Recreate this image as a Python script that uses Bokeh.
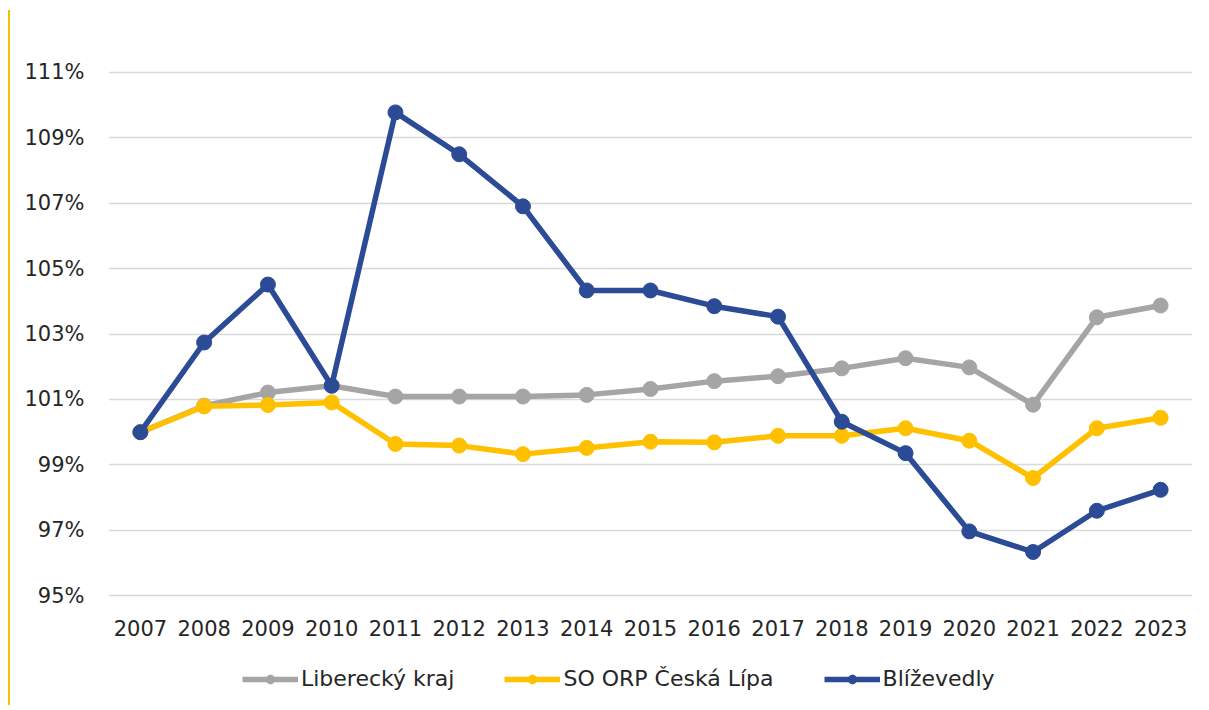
from bokeh.plotting import figure
from bokeh.layouts import column
from bokeh.models import (FixedTicker, PrintfTickFormatter, Legend, LegendItem,
                          ColumnDataSource, Range1d, FactorRange)
from bokeh.embed import file_html
from bokeh.resources import INLINE

years = [str(y) for y in range(2007, 2024)]
liberecky = [100.0, 100.81, 101.21, 101.42, 101.09, 101.09, 101.09, 101.14, 101.32,
             101.56, 101.71, 101.95, 102.26, 101.98, 100.84, 103.51, 103.87]
ceska_lipa = [100.0, 100.79, 100.83, 100.91, 99.64, 99.59, 99.33, 99.52, 99.71,
              99.69, 99.89, 99.89, 100.12, 99.74, 98.60, 100.12, 100.44]
blizevedly = [100.0, 102.74, 104.51, 101.42, 109.77, 108.49, 106.90, 104.33, 104.33,
              103.85, 103.53, 100.32, 99.36, 96.97, 96.34, 97.60, 98.24]
y_ticks = [95, 97, 99, 101, 103, 105, 107, 109, 111]
series_names = ["Liberecký kraj", "SO ORP Česká Lípa", "Blíževedly"]
colors = ["#A5A5A5", "#FFC000", "#2B4B96"]

FONT = "DejaVu Sans"
FS = "21px"
LW = 5.5
MS = 15

p = figure(width=1195, height=645, x_range=FactorRange(*years, range_padding=0),
           y_range=Range1d(94.95, 111.05), output_backend="svg", toolbar_location=None,
           min_border_left=98, min_border_right=13, min_border_top=60,
           min_border_bottom=58)
p.outline_line_color = None
p.background_fill_color = "white"
p.border_fill_color = "white"

p.xgrid.grid_line_color = None
p.ygrid.grid_line_color = "#D9D9D9"
p.ygrid.grid_line_width = 1.5

p.yaxis.ticker = FixedTicker(ticks=y_ticks)
p.yaxis.formatter = PrintfTickFormatter(format="%d%%")
for ax in (p.xaxis, p.yaxis):
    ax.axis_line_color = None
    ax.major_tick_line_color = None
    ax.minor_tick_line_color = None
    ax.major_label_text_font = FONT
    ax.major_label_text_font_size = FS
    ax.major_label_text_color = "#262626"
p.yaxis.major_label_standoff = 18
p.xaxis.major_label_standoff = 16

sources = []
for vals, col in zip([liberecky, ceska_lipa, blizevedly], colors):
    src = ColumnDataSource(dict(x=years, y=vals))
    sources.append(src)
    p.line("x", "y", source=src, line_color=col, line_width=LW)
    p.scatter("x", "y", source=src, size=MS, fill_color=col, line_color=col)

# legend strip below the chart (its own ranges keep the series out of view)
lf = figure(width=1195, height=50, x_range=FactorRange(*years, range_padding=0),
            y_range=Range1d(0, 1), output_backend="svg", toolbar_location=None,
            min_border_left=0, min_border_right=0, min_border_top=0, min_border_bottom=0)
lf.axis.visible = False
lf.grid.grid_line_color = None
lf.outline_line_color = None
items = []
for name, src, col in zip(series_names, sources, colors):
    ln = lf.line("x", "y", source=src, line_color=col, line_width=LW)
    sc = lf.scatter("x", "y", source=src, size=MS, fill_color=col, line_color=col)
    items.append(LegendItem(label=name, renderers=[ln, sc]))
legend = Legend(items=items, orientation="horizontal", location=(134, 14),
                label_text_font=FONT, label_text_font_size="22px",
                label_text_color="#262626", glyph_width=56, glyph_height=22,
                label_standoff=3, spacing=50, border_line_color=None,
                background_fill_alpha=0, margin=0, padding=4)
lf.add_layout(legend, "center")

layout = column(p, lf, spacing=0,
                styles={"border-left": "2px solid #F2C000", "margin-top": "10px",
                        "margin-left": "8px"})

open("out.html", "w").write(file_html(layout, INLINE))
